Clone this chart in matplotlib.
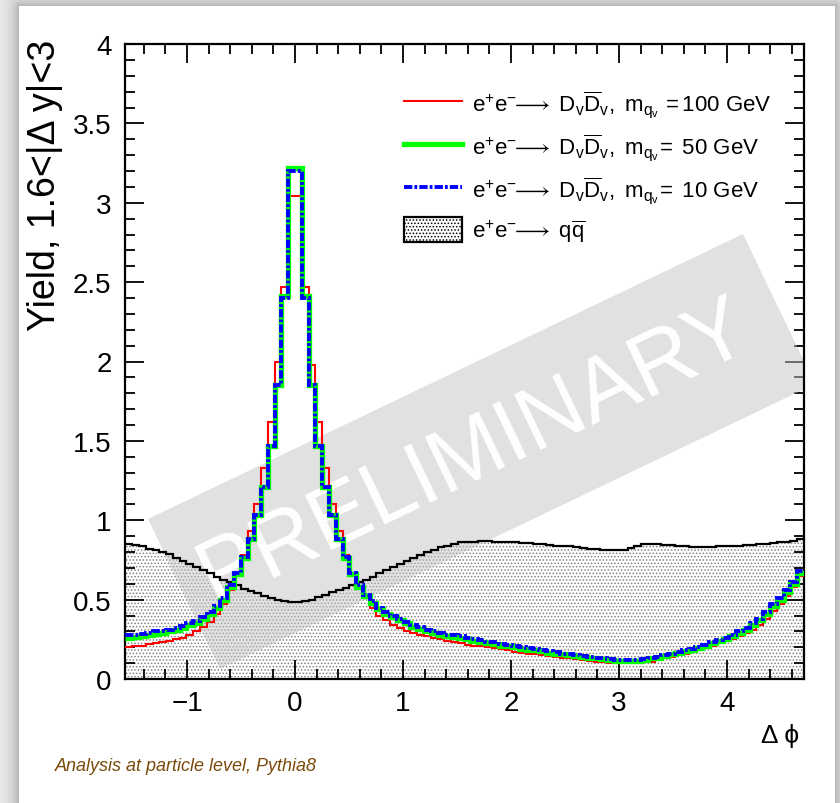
"""Delta-phi yield for dark-sector signal vs e+e- -> qqbar (ROOT-style look)."""

import numpy as np
import matplotlib
matplotlib.use('Agg')
import matplotlib.pyplot as plt
from matplotlib.patches import Polygon, Patch
from matplotlib.lines import Line2D
from matplotlib.ticker import MultipleLocator, AutoMinorLocator, FuncFormatter

plt.rcParams['font.family'] = ['Liberation Sans', 'DejaVu Sans']
plt.rcParams['mathtext.fontset'] = 'custom'
plt.rcParams['mathtext.rm'] = 'Liberation Sans'
plt.rcParams['mathtext.it'] = 'Liberation Sans:italic'
plt.rcParams['lines.scale_dashes'] = False
plt.rcParams['hatch.linewidth'] = 0.7

## DATA  (100 bins from -pi/2 to 3pi/2)
n_bins = 100
x_min, x_max = -np.pi / 2, 3 * np.pi / 2

# m_qv = 100 GeV (red)
red_vals = [
    0.20, 0.205, 0.21, 0.22, 0.225, 0.23, 0.24, 0.25, 0.26, 0.28,
    0.30, 0.33, 0.36, 0.41, 0.47, 0.56, 0.66, 0.78, 0.93, 1.10,
    1.33, 1.62, 2.00, 2.47, 3.04, 3.04, 2.47, 1.98, 1.62, 1.33,
    1.10, 0.93, 0.78, 0.67, 0.58, 0.51, 0.45, 0.40, 0.37, 0.34,
    0.32, 0.30, 0.29, 0.28, 0.27, 0.26, 0.25, 0.24, 0.23, 0.225,
    0.215, 0.21, 0.205, 0.20, 0.195, 0.19, 0.18, 0.17, 0.165, 0.16,
    0.155, 0.15, 0.145, 0.14, 0.135, 0.13, 0.125, 0.12, 0.115, 0.11,
    0.105, 0.10, 0.10, 0.10, 0.10, 0.10, 0.105, 0.11, 0.12, 0.13,
    0.14, 0.15, 0.16, 0.17, 0.18, 0.195, 0.21, 0.225, 0.24, 0.255,
    0.27, 0.29, 0.31, 0.34, 0.38, 0.43, 0.47, 0.52, 0.58, 0.65,
]

# m_qv = 50 GeV (green)
green_vals = [
    0.26, 0.265, 0.27, 0.28, 0.285, 0.29, 0.30, 0.31, 0.32, 0.34,
    0.35, 0.38, 0.41, 0.45, 0.50, 0.58, 0.66, 0.76, 0.88, 1.03,
    1.21, 1.47, 1.85, 2.41, 3.22, 3.22, 2.41, 1.85, 1.47, 1.21,
    1.03, 0.88, 0.76, 0.66, 0.58, 0.52, 0.48, 0.44, 0.41, 0.39,
    0.37, 0.35, 0.33, 0.315, 0.30, 0.29, 0.28, 0.27, 0.265, 0.26,
    0.25, 0.24, 0.235, 0.225, 0.22, 0.21, 0.205, 0.20, 0.19, 0.185,
    0.18, 0.175, 0.165, 0.16, 0.155, 0.15, 0.145, 0.14, 0.135, 0.13,
    0.125, 0.12, 0.115, 0.115, 0.115, 0.115, 0.12, 0.13, 0.135, 0.145,
    0.155, 0.165, 0.175, 0.185, 0.195, 0.21, 0.225, 0.24, 0.255, 0.27,
    0.29, 0.31, 0.34, 0.37, 0.41, 0.46, 0.50, 0.55, 0.60, 0.67,
]

# m_qv = 10 GeV (blue)
blue_vals = [
    0.28, 0.28, 0.285, 0.29, 0.30, 0.305, 0.31, 0.32, 0.335, 0.35,
    0.365, 0.39, 0.42, 0.46, 0.51, 0.59, 0.67, 0.77, 0.88, 1.03,
    1.21, 1.47, 1.85, 2.40, 3.20, 3.20, 2.40, 1.85, 1.47, 1.21,
    1.03, 0.88, 0.77, 0.67, 0.59, 0.53, 0.49, 0.45, 0.42, 0.40,
    0.38, 0.36, 0.34, 0.325, 0.31, 0.30, 0.29, 0.28, 0.275, 0.27,
    0.26, 0.25, 0.245, 0.235, 0.23, 0.22, 0.215, 0.21, 0.20, 0.195,
    0.19, 0.18, 0.175, 0.17, 0.16, 0.155, 0.15, 0.145, 0.14, 0.135,
    0.13, 0.125, 0.12, 0.12, 0.12, 0.12, 0.125, 0.135, 0.14, 0.15,
    0.16, 0.17, 0.18, 0.19, 0.20, 0.215, 0.23, 0.245, 0.26, 0.28,
    0.30, 0.32, 0.35, 0.38, 0.42, 0.47, 0.51, 0.56, 0.61, 0.68,
]

# e+e- -> q qbar background
qq_vals = [
    0.85, 0.845, 0.835, 0.82, 0.81, 0.80, 0.785, 0.765, 0.745, 0.725,
    0.705, 0.685, 0.665, 0.645, 0.625, 0.61, 0.59, 0.57, 0.555, 0.54,
    0.525, 0.51, 0.50, 0.49, 0.485, 0.485, 0.49, 0.50, 0.515, 0.53,
    0.545, 0.56, 0.575, 0.59, 0.61, 0.625, 0.645, 0.665, 0.685, 0.705,
    0.725, 0.745, 0.765, 0.78, 0.80, 0.815, 0.83, 0.84, 0.85, 0.86,
    0.865, 0.865, 0.87, 0.87, 0.865, 0.865, 0.86, 0.86, 0.855, 0.855,
    0.85, 0.85, 0.845, 0.84, 0.84, 0.835, 0.83, 0.825, 0.82, 0.82,
    0.815, 0.81, 0.81, 0.815, 0.825, 0.84, 0.85, 0.85, 0.85, 0.845,
    0.845, 0.84, 0.835, 0.83, 0.83, 0.83, 0.83, 0.835, 0.835, 0.84,
    0.84, 0.845, 0.845, 0.85, 0.85, 0.855, 0.86, 0.865, 0.87, 0.88,
]

labels = [
    r'$\mathrm{e^{+}e^{-}\!\!\longrightarrow\ D_{v}\overline{D}_{v},\ m_{q_{v}}\,=100\ GeV}$',
    r'$\mathrm{e^{+}e^{-}\!\!\longrightarrow\ D_{v}\overline{D}_{v},\ m_{q_{v}}\!=\ 50\ GeV}$',
    r'$\mathrm{e^{+}e^{-}\!\!\longrightarrow\ D_{v}\overline{D}_{v},\ m_{q_{v}}\!=\ 10\ GeV}$',
    r'$\mathrm{e^{+}e^{-}\!\!\longrightarrow\ q\overline{q}}$',
]

edges = np.linspace(x_min, x_max, n_bins + 1)

## FIGURE
W, H = 840, 804
fig = plt.figure(figsize=(W / 100, H / 100), dpi=100)
fig.patch.set_facecolor('white')

# drop shadow around the white panel
bg = fig.add_axes([0, 0, 1, 1], zorder=-10)
yy, xx = np.mgrid[0:H, 0:W]
dx = np.clip(19 - xx, 0, None) + np.clip(xx - 834, 0, None)
dy = np.clip(7 - yy, 0, None)
d = np.hypot(dx, dy)
outside = (xx < 19) | (yy < 7) | (xx > 834)
shade = np.where(outside, 0.70 + 0.25 * (1 - np.exp(-d / 10.0)), 1.0)
bg.imshow(np.dstack([shade] * 3), extent=(0, 1, 0, 1), aspect='auto')
bg.set_axis_off()

ax = fig.add_axes([125.4 / W, 124 / H, (804 - 125.4) / W, (759 - 124) / H])
ax.set_xlim(x_min, x_max)
ax.set_ylim(0, 4)

# background q qbar: dotted fill + black outline
ax.stairs(qq_vals, edges, fill=True, facecolor='white', hatch='.....',
          edgecolor='#808080', linewidth=0, zorder=1)
ax.stairs(qq_vals, edges, baseline=None, color='black', linewidth=1.6, zorder=3)

# PRELIMINARY band (axes fraction)
def px2ax(px, py):
    return ((px - 125.4) / (804 - 125.4), (680 - py) / (680 - 45))

band = Polygon([px2ax(148, 520), px2ax(743, 235), px2ax(815, 385), px2ax(220, 670)],
               closed=True, transform=ax.transAxes, facecolor='#c4c4c4',
               edgecolor='none', alpha=0.5, zorder=2, clip_on=True)
ax.add_patch(band)
cx, cy = px2ax(474, 452)
ax.text(cx, cy, 'PRELIMINARY', transform=ax.transAxes, rotation=25.6,
        rotation_mode='anchor', ha='center', va='center', fontsize=64,
        color='white', zorder=2.5)

# signal histograms
ax.stairs(red_vals, edges, baseline=None, color='#ff0000', linewidth=1.5, zorder=4)
ax.stairs(green_vals, edges, baseline=None, color='#00ff00', linewidth=3.8, zorder=5)
ax.stairs(blue_vals, edges, baseline=None, color='#0000ff', linewidth=2.8,
          linestyle=(0, (6, 1.5, 2, 1.5)), zorder=6)

# ticks, ROOT style
ax.xaxis.set_major_locator(MultipleLocator(1))
ax.xaxis.set_minor_locator(AutoMinorLocator(5))
ax.yaxis.set_major_locator(MultipleLocator(0.5))
ax.yaxis.set_minor_locator(AutoMinorLocator(5))
ax.yaxis.set_major_formatter(FuncFormatter(lambda v, p: '%g' % v))
ax.tick_params(which='both', direction='in', top=True, right=True, width=1.3)
ax.tick_params(which='major', length=14)
ax.tick_params(which='minor', length=7)
ax.tick_params(axis='y', which='major', labelsize=20, pad=10)
ax.tick_params(axis='x', which='major', labelsize=20, pad=8)
for s in ax.spines.values():
    s.set_linewidth(1.6)

# legend
handles = [
    Line2D([], [], color='#ff0000', linewidth=1.5),
    Line2D([], [], color='#00ff00', linewidth=3.8),
    Line2D([], [], color='#0000ff', linewidth=2.8, linestyle=(0, (6, 1.5, 2, 1.5))),
    Patch(facecolor='white', edgecolor='black', hatch='.....', linewidth=1.6),
]
ax.legend(handles, labels, loc='upper left', bbox_to_anchor=px2ax(395, 81),
          frameon=False, fontsize=16, handlelength=2.6, handleheight=1.3,
          labelspacing=0.55, handletextpad=0.45, borderaxespad=0)

# axis titles and note
fig.text(45 / W, 1 - 40 / H, 'Yield, 1.6<|\u0394 y|<3', rotation=90,
         ha='center', va='top', fontsize=27)
fig.text(780 / W, 1 - 736 / H, '\u0394 \u03d5', ha='center', va='center',
         fontsize=19, family=['Liberation Sans', 'DejaVu Sans'])
fig.text(55 / W, 1 - 767 / H, 'Analysis at particle level, Pythia8',
         ha='left', va='center', fontsize=13, style='italic', color='#7a4a0a')

fig.savefig('out.png', dpi=100)
